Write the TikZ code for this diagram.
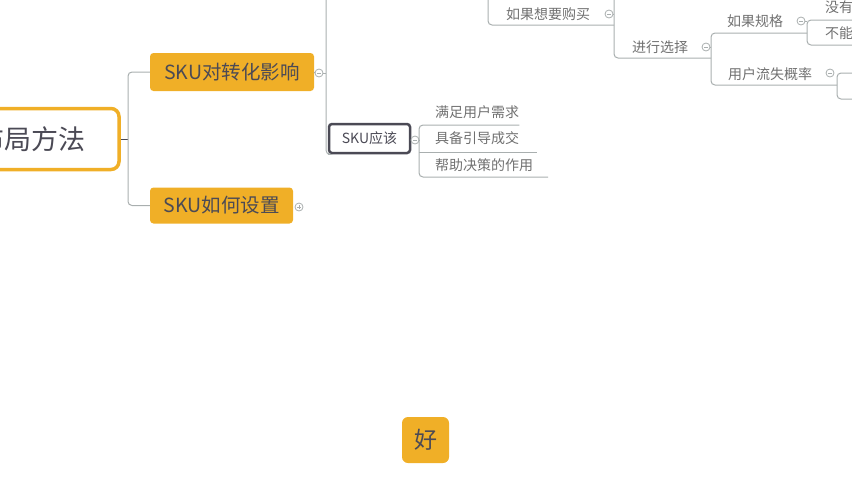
\documentclass[tikz,border=0pt]{standalone}
\usepackage{fontspec}
\newfontfamily\cjk{Noto Sans CJK SC}
\definecolor{skuorange}{HTML}{F0AF27}
\definecolor{inkgrey}{HTML}{4B4A55}
\definecolor{leafgrey}{HTML}{707070}
\definecolor{branchgrey}{HTML}{A9AFAF}
\tikzset{
  maintopic/.style={fill=skuorange, rounded corners=3.5pt, text=inkgrey, inner sep=0pt,
    font=\cjk\fontsize{19.5pt}{19.5pt}\selectfont},
  subtopic/.style={text=leafgrey, inner sep=0pt, font=\cjk\fontsize{14pt}{14pt}\selectfont},
  branch/.style={branchgrey, line width=1pt, rounded corners=4pt},
  fold/.style={circle, draw=branchgrey, fill=white, line width=0.8pt, minimum size=8pt, inner sep=0pt,
    path picture={\draw[branchgrey, line width=0.7pt]
      ([xshift=-2pt]path picture bounding box.center) -- ([xshift=2pt]path picture bounding box.center);}},
  unfold/.style={fold, path picture={\draw[branchgrey, line width=0.7pt]
      ([xshift=-2pt]path picture bounding box.center) -- ([xshift=2pt]path picture bounding box.center)
      ([yshift=-2pt]path picture bounding box.center) -- ([yshift=2pt]path picture bounding box.center);}}
}
\begin{document}
\begin{tikzpicture}[x=1pt,y=-1pt]
  \useasboundingbox (0,0) rectangle (852,480);
  \clip (0,0) rectangle (852,480);

  % main topics
  \node[draw=skuorange, line width=3.5pt, rounded corners=8pt, fill=white, minimum width=174pt,
        minimum height=61pt, text=inkgrey, font=\cjk\fontsize{27pt}{27pt}\selectfont] (root) at (32,139) {布局方法};
  \node[maintopic, minimum width=164pt, minimum height=38pt] (impact) at (232,72) {SKU对转化影响};
  \node[maintopic, minimum width=143pt, minimum height=36pt] (setup) at (221.5,205.5) {SKU如何设置};
  \node[maintopic, minimum width=47pt, minimum height=46pt, rounded corners=6pt,
        font=\cjk\fontsize{23pt}{23pt}\selectfont] (good) at (425.5,440) {好};

  \coordinate (trunk) at (128,139);
  \draw[inkgrey, line width=1pt] (root.east) -- (trunk);
  \draw[branch] (impact.west) -| (trunk) |- (setup.west);
  \node[unfold] (f7) at (299,207) {};

  % SKU应该
  \node[fold] (f1) at (319,73) {};
  \coordinate (spine) at (326,0);
  \node[draw=inkgrey, line width=2.5pt, rounded corners=3pt, fill=white, minimum width=81pt,
        minimum height=29pt, inner sep=0pt, text=inkgrey, font=\cjk\fontsize{14pt}{14pt}\selectfont] (should) at (369.5,138.5) {SKU应该};
  \draw[branch] (impact.east) -- (f1.west);
  \draw[branch] (f1.east) -- (f1.east -| spine);
  \draw[branch] (spine) |- (should.south west);

  \node[fold] (f2) at (415,140) {};
  \node[subtopic, anchor=west] (need) at (435,112) {满足用户需求};
  \node[subtopic, anchor=west] (deal) at (435,138) {具备引导成交};
  \node[subtopic, anchor=west] (help) at (435,165) {帮助决策的作用};
  \draw[branch] (f2.east) -- (419,140);
  \draw[branch] (need.east |- 0,125) -| (419,177) -- (548,177);
  \draw[branch] (419,152) -- (537,152);

  % top right branch
  \node[subtopic] (buy) at (548,14) {如果想要购买};
  \node[fold] (f3) at (609,14) {};
  \draw[branch] (488,0) |- (614,25);
  \draw[branch] (f3.east) -- (614,14);
  \draw[branch] (614,0) |- (711,58);

  \node[subtopic] (choose) at (660,47) {进行选择};
  \node[fold] (f4) at (706,47) {};
  \draw[branch] (f4.east) -- (711,47);
  \draw[branch] (807,33) -| (711,85) -- (837,85);

  \node[subtopic] (spec) at (755,21) {如果规格};
  \node[fold] (f5) at (801,21) {};
  \draw[branch] (852,20) -- (807,20) -- (807,45) -- (852,45);
  \draw[branch] (f5.east) -- (807,21);
  \node[subtopic, anchor=west] (none) at (825,7) {没有};
  \node[subtopic, anchor=west] (cannot) at (825,33) {不能};

  \node[subtopic] (loss) at (770,74) {用户流失概率};
  \node[fold] (f6) at (830,73) {};
  \draw[branch] (852,73) -- (837,73) -- (837,99) -- (852,99);
\end{tikzpicture}
\end{document}
